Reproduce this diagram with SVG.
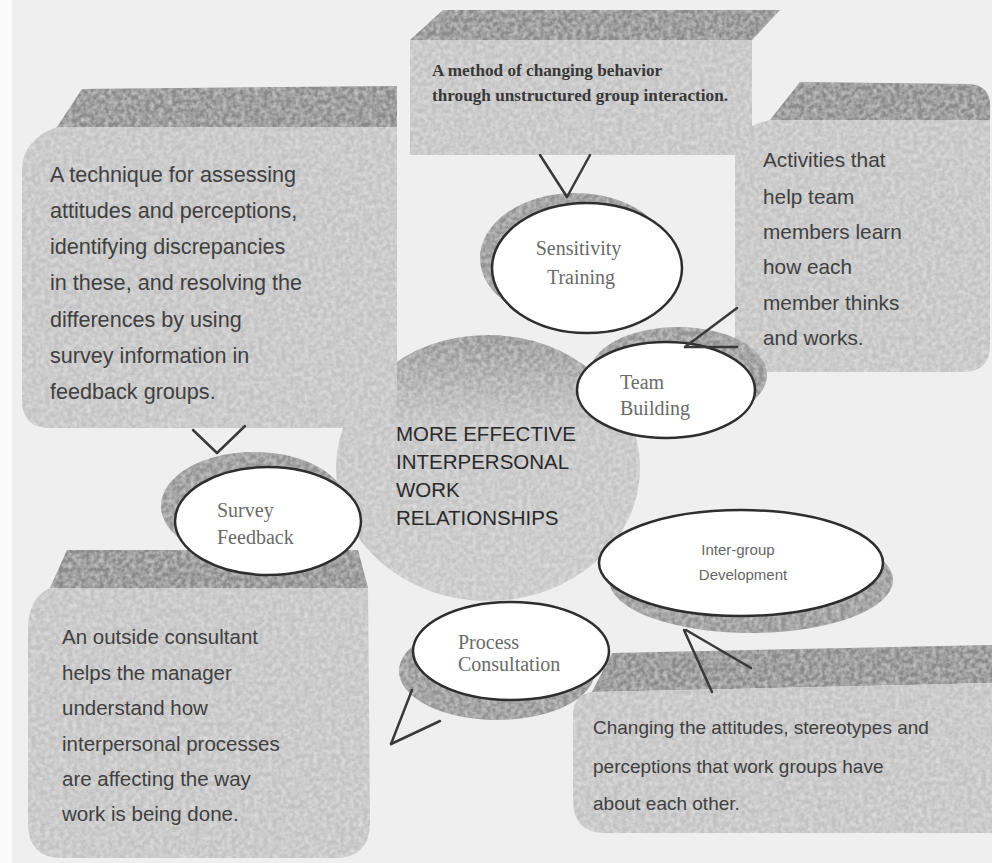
<svg xmlns="http://www.w3.org/2000/svg" width="992" height="863" viewBox="0 0 992 863">
<defs>
  <filter id="tex" x="0" y="0" width="100%" height="100%">
    <feTurbulence type="fractalNoise" baseFrequency="0.22" numOctaves="2" seed="4" result="n"/>
    <feColorMatrix in="n" type="matrix" values="0 0 0 0 1  0 0 0 0 1  0 0 0 0 1  0.7 0 0 0 -0.22" result="w"/>
    <feComposite in="w" in2="SourceGraphic" operator="in" result="ws"/>
    <feMerge><feMergeNode in="SourceGraphic"/><feMergeNode in="ws"/></feMerge>
  </filter>
  <linearGradient id="cg" x1="0" y1="0" x2="0" y2="1">
    <stop offset="0" stop-color="#8f8f8f"/>
    <stop offset="0.22" stop-color="#b0b0b0"/>
    <stop offset="0.35" stop-color="#c2c2c2"/>
    <stop offset="1" stop-color="#c6c6c6"/>
  </linearGradient>
  <style>
    .face{fill:#c2c2c2;filter:url(#tex)}
    .band{fill:#8a8a8a;filter:url(#tex)}
    .shadow{fill:#939393;filter:url(#tex)}
    .oval{fill:#ffffff;stroke:#2e2e2e;stroke-width:2.5}
    .desc{font-family:"Liberation Sans",Arial,sans-serif;fill:#404040}
    .lbl{font-family:"Liberation Serif","Times New Roman",serif;fill:#6a6a6a;font-size:20px}
    .conn line{stroke:#3a3a3a;stroke-width:2.5;stroke-linecap:round}
  </style>
</defs>

<rect x="0" y="0" width="992" height="863" fill="#efefef"/>
<rect x="0" y="0" width="12" height="863" fill="#fafafa"/>

<g id="center">
  <ellipse cx="488" cy="468" rx="152" ry="133" fill="url(#cg)" filter="url(#tex)"/>
</g>

<g id="box-sensitivity">
  <polygon class="band" points="443,10 780,10 752,40 410,40"/>
  <rect class="face" x="410" y="40" width="342" height="115"/>
  <text font-family="'Liberation Serif','Times New Roman',serif" font-weight="bold" font-size="17.2" fill="#383838">
    <tspan x="432" y="76">A method of changing behavior</tspan>
    <tspan x="432" y="101">through unstructured group interaction.</tspan>
  </text>
</g>

<g id="box-survey">
  <polygon class="band" points="82,89 397,86 397,127 57,127"/>
  <path class="face" d="M57,127 L397,127 L397,400 Q397,428 370,428 L50,428 Q22,428 22,400 L22,170 Q22,140 57,127 Z"/>
  <text class="desc" font-size="21.6">
    <tspan x="50" y="182">A technique for assessing</tspan>
    <tspan x="50" y="218">attitudes and perceptions,</tspan>
    <tspan x="50" y="254">identifying discrepancies</tspan>
    <tspan x="50" y="290">in these, and resolving the</tspan>
    <tspan x="50" y="327">differences by using</tspan>
    <tspan x="50" y="363">survey information in</tspan>
    <tspan x="50" y="399">feedback groups.</tspan>
  </text>
</g>

<g id="box-team">
  <path class="band" d="M800,82 L970,84 Q990,86 990,105 L990,120 L770,120 Z"/>
  <path class="face" d="M770,120 L990,120 L990,345 Q990,372 963,372 L760,372 Q735,372 735,345 L735,150 Q735,128 770,120 Z"/>
  <text class="desc" font-size="20.8">
    <tspan x="763" y="167">Activities that</tspan>
    <tspan x="763" y="204">help team</tspan>
    <tspan x="763" y="239">members learn</tspan>
    <tspan x="763" y="274">how each</tspan>
    <tspan x="763" y="310">member thinks</tspan>
    <tspan x="763" y="345">and works.</tspan>
  </text>
</g>

<g id="box-process">
  <polygon class="band" points="67,550 358,550 368,588 50,588"/>
  <path class="face" d="M50,588 L368,588 L370,822 Q370,858 335,858 L62,858 Q28,858 28,822 L28,630 Q28,598 50,588 Z"/>
  <text class="desc" font-size="20.5">
    <tspan x="62" y="644">An outside consultant</tspan>
    <tspan x="62" y="680">helps the manager</tspan>
    <tspan x="62" y="715">understand how</tspan>
    <tspan x="62" y="751">interpersonal processes</tspan>
    <tspan x="62" y="786">are affecting the way</tspan>
    <tspan x="62" y="821">work is being done.</tspan>
  </text>
</g>

<g id="box-intergroup">
  <polygon class="band" points="612,653 992,645 992,683 592,692"/>
  <path class="face" d="M592,692 L992,683 L992,833 L605,833 Q573,833 573,800 L573,715 Q573,695 592,692 Z"/>
  <text class="desc" font-size="19">
    <tspan x="593" y="734">Changing the attitudes, stereotypes and</tspan>
    <tspan x="593" y="773">perceptions that work groups have</tspan>
    <tspan x="593" y="810">about each other.</tspan>
  </text>
</g>

<g id="center-label">
  <text font-family="'Liberation Sans',Arial,sans-serif" font-size="20.5" fill="#2a2a2a">
    <tspan x="396" y="441">MORE EFFECTIVE</tspan>
    <tspan x="396" y="469">INTERPERSONAL</tspan>
    <tspan x="396" y="497">WORK</tspan>
    <tspan x="396" y="525">RELATIONSHIPS</tspan>
  </text>
</g>

<g id="sensitivity-training">
  <ellipse class="shadow" cx="575" cy="258" rx="95" ry="65"/>
  <ellipse class="oval" cx="587" cy="268" rx="95" ry="65"/>
  <text class="lbl" text-anchor="middle">
    <tspan x="581" y="255">Sensitivity</tspan>
    <tspan x="581" y="284">Training</tspan>
  </text>
</g>

<g id="team-building">
  <ellipse class="shadow" cx="678" cy="375" rx="89" ry="48"/>
  <ellipse class="oval" cx="666" cy="390" rx="89" ry="48"/>
  <text class="lbl">
    <tspan x="620" y="389">Team</tspan>
    <tspan x="620" y="415">Building</tspan>
  </text>
</g>

<g id="survey-feedback">
  <ellipse class="shadow" cx="254" cy="506" rx="93" ry="54"/>
  <ellipse class="oval" cx="268" cy="521" rx="93" ry="54"/>
  <text class="lbl">
    <tspan x="217" y="517">Survey</tspan>
    <tspan x="217" y="544">Feedback</tspan>
  </text>
</g>

<g id="process-consultation">
  <ellipse class="shadow" cx="497" cy="671" rx="98" ry="49"/>
  <ellipse class="oval" cx="511" cy="651" rx="98" ry="49"/>
  <text class="lbl" font-size="18.5">
    <tspan x="458" y="649">Process</tspan>
    <tspan x="458" y="671">Consultation</tspan>
  </text>
</g>

<g id="intergroup-development">
  <ellipse class="shadow" cx="751" cy="580" rx="142" ry="53"/>
  <ellipse class="oval" cx="741" cy="563" rx="142" ry="53"/>
  <text font-family="'Liberation Sans',Arial,sans-serif" font-size="15" fill="#666666" text-anchor="middle">
    <tspan x="740" y="555">Inter-group</tspan>
    <tspan x="743" y="580">Development</tspan>
  </text>
</g>

<g id="connectors" class="conn">
  <line x1="540" y1="155" x2="567" y2="197"/>
  <line x1="590" y1="155" x2="567" y2="197"/>
  <line x1="193" y1="430" x2="217" y2="453"/>
  <line x1="245" y1="426" x2="217" y2="453"/>
  <line x1="737" y1="308" x2="685" y2="347"/>
  <line x1="685" y1="347" x2="737" y2="347"/>
  <line x1="412" y1="690" x2="391" y2="744"/>
  <line x1="391" y1="744" x2="440" y2="721"/>
  <line x1="684" y1="630" x2="712" y2="692"/>
  <line x1="686" y1="630" x2="751" y2="668"/>
</g>
</svg>
